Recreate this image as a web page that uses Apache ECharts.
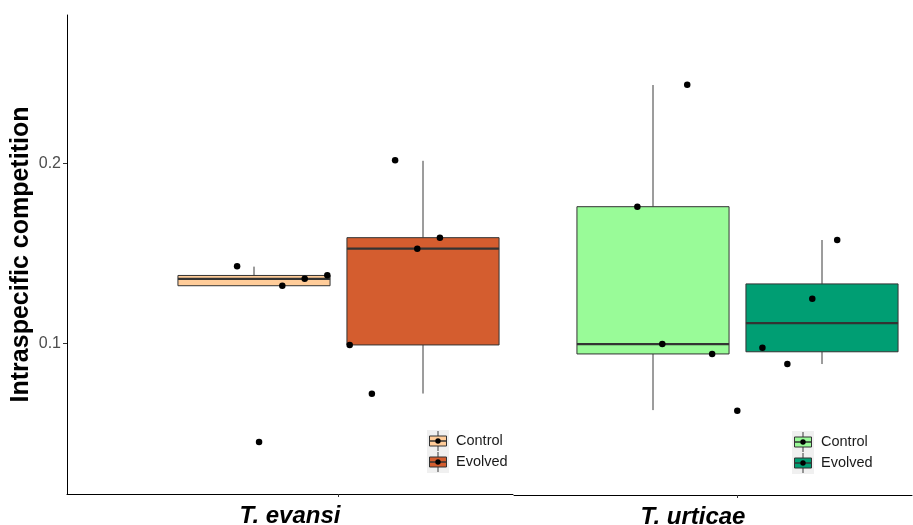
<!DOCTYPE html>
<html>
<head>
<meta charset="utf-8">
<script src="https://cdn.jsdelivr.net/npm/echarts@6/dist/echarts.min.js"></script>
<style>
html,body{margin:0;padding:0;background:#fff;}
#chart{width:913px;height:525px;}
</style>
</head>
<body>
<div id="chart"></div>
<script>
// ---------- data ----------
const species = ['T. evansi', 'T. urticae'];
const groups = ['Control', 'Evolved'];
const yTickValues = [0.1, 0.2];
const yTitle = 'Intraspecific competition';

// box statistics: [lower whisker, Q1, median, Q3, upper whisker]
const evansiControlBox  = [0.1320, 0.1320, 0.1358, 0.1377, 0.1426];
const evansiEvolvedBox  = [0.0721, 0.0991, 0.1526, 0.1587, 0.2014];
const urticaeControlBox = [0.0629, 0.0941, 0.0996, 0.1759, 0.2435];
const urticaeEvolvedBox = [0.0885, 0.0953, 0.1112, 0.1330, 0.1574];

// individual observations and their horizontal jitter
const evansiControlPts   = [0.1428, 0.1320, 0.1359, 0.1378, 0.0452];
const evansiControlJit   = [-0.040, 0.067, 0.120, 0.1735, 0.012];
const evansiEvolvedPts   = [0.2017, 0.1587, 0.1526, 0.0991, 0.0720];
const evansiEvolvedJit   = [-0.066, 0.040, -0.0135, -0.1735, -0.121];
const urticaeControlPts  = [0.2437, 0.1759, 0.0996, 0.0941, 0.0626];
const urticaeControlJit  = [0.081, -0.037, 0.022, 0.140, 0.1995];
const urticaeEvolvedPts  = [0.1574, 0.1248, 0.0976, 0.0885];
const urticaeEvolvedJit  = [0.036, -0.023, -0.141, -0.082];

// ---------- styling / layout ----------
const FONT = '"Liberation Sans", Arial, Helvetica, sans-serif';
const colors = {
  evansi: ['#FFCC99', '#D45D2F'],
  urticae: ['#99FB98', '#009E73']
};
const groupPos = [0.8, 1.2];
const HALF = 0.18;
const SCALE = 1800; // px per unit (y)
const yMax = 0.2824;

function boxRender(color) {
  return function (params, api) {
    const c = api.value(0);
    const pMin = api.coord([c, api.value(1)]);
    const pQ1 = api.coord([c, api.value(2)]);
    const pMed = api.coord([c, api.value(3)]);
    const pQ3 = api.coord([c, api.value(4)]);
    const pMax = api.coord([c, api.value(5)]);
    const half = api.size([HALF, 0])[0];
    const ls = {stroke: '#3a3a3a', lineWidth: 1};
    return {
      type: 'group',
      children: [
        {type: 'line', shape: {x1: pMax[0], y1: pMax[1], x2: pQ3[0], y2: pQ3[1]}, style: ls},
        {type: 'line', shape: {x1: pMin[0], y1: pMin[1], x2: pQ1[0], y2: pQ1[1]}, style: ls},
        {type: 'rect', shape: {x: pQ3[0] - half, y: pQ3[1], width: 2 * half, height: pQ1[1] - pQ3[1]},
          style: {fill: color, stroke: '#333333', lineWidth: 1}},
        {type: 'line', shape: {x1: pMed[0] - half, y1: pMed[1], x2: pMed[0] + half, y2: pMed[1]},
          style: {stroke: '#333333', lineWidth: 2.2}}
      ]
    };
  };
}

function boxSeries(idx, gi, stats, color) {
  return {
    type: 'custom',
    xAxisIndex: idx, yAxisIndex: idx,
    renderItem: boxRender(color),
    encode: {x: 0, y: [1, 2, 3, 4, 5]},
    data: [[groupPos[gi]].concat(stats)],
    z: 2,
    silent: true
  };
}

function pointSeries(idx, gi, vals, jit) {
  return {
    type: 'scatter',
    xAxisIndex: idx, yAxisIndex: idx,
    symbolSize: 6.5,
    itemStyle: {color: '#000', opacity: 1},
    data: vals.map((v, i) => [groupPos[gi] + jit[i], v]),
    z: 5,
    silent: true
  };
}

function legendGraphic(x, y, cols) {
  const children = [
    {type: 'rect', shape: {x: x, y: y, width: 22, height: 43}, style: {fill: '#F0F0F0'}}
  ];
  cols.forEach((c, i) => {
    const cy = y + 11 + i * 21;
    const cx = x + 11;
    children.push({type: 'line', shape: {x1: cx, y1: cy - 10, x2: cx, y2: cy + 10}, style: {stroke: '#3a3a3a', lineWidth: 1}});
    children.push({type: 'rect', shape: {x: x + 2.5, y: cy - 5, width: 17, height: 10}, style: {fill: c, stroke: '#333', lineWidth: 1}});
    children.push({type: 'line', shape: {x1: x + 2.5, y1: cy, x2: x + 19.5, y2: cy}, style: {stroke: '#333', lineWidth: 1.5}});
    children.push({type: 'circle', shape: {cx: cx, cy: cy, r: 2.7}, style: {fill: '#000'}});
    children.push({type: 'text', x: x + 29, y: cy, style: {text: groups[i], font: '14.5px ' + FONT, fill: '#1A1A1A', textVerticalAlign: 'middle', textAlign: 'left'}});
  });
  return {type: 'group', children: children};
}

const chart = echarts.init(document.getElementById('chart'), null, {renderer: 'canvas'});

const grids = [
  {left: 67, top: 15, width: 446, height: 479, containLabel: false, outerBoundsMode: 'none'},
  {left: 514, top: 15, width: 398, height: 480, containLabel: false, outerBoundsMode: 'none'}
];

function xAxis(idx, min, max, padRight) {
  return {
    type: 'value', gridIndex: idx, min: min, max: max,
    splitLine: {show: false},
    axisLine: {show: true, lineStyle: {color: '#000', width: 1}},
    axisTick: {show: true, customValues: [1], length: 3, lineStyle: {color: '#333'}},
    axisLabel: {show: false},
    name: species[idx], nameLocation: 'middle', nameGap: 10,
    nameTextStyle: {fontFamily: FONT, fontSize: 24, fontWeight: 'bold', fontStyle: 'italic', color: '#000',
      verticalAlign: 'top', padding: [0, padRight, 0, 0]}
  };
}

const option = {
  animation: false,
  backgroundColor: '#fff',
  grid: grids,
  xAxis: [
    xAxis(0, 1 - 271.5 / 422.5, 1 - 271.5 / 422.5 + 446 / 422.5, 0),
    xAxis(1, 1 - 223.5 / 422.5, 1 - 223.5 / 422.5 + 398 / 422.5, 40)
  ],
  yAxis: [
    {
      type: 'value', gridIndex: 0, min: yMax - 479 / SCALE, max: yMax,
      splitLine: {show: false},
      axisLine: {show: true, lineStyle: {color: '#000', width: 1}},
      axisTick: {show: true, customValues: yTickValues, length: 4, lineStyle: {color: '#333'}},
      axisLabel: {customValues: yTickValues, formatter: v => v.toFixed(1), color: '#4D4D4D',
        fontFamily: FONT, fontSize: 16, margin: 6},
      name: yTitle, nameLocation: 'middle', nameGap: 33,
      nameTextStyle: {fontFamily: FONT, fontSize: 25, fontWeight: 'bold', color: '#000'}
    },
    {
      type: 'value', gridIndex: 1, min: yMax - 480 / SCALE, max: yMax, show: false,
      splitLine: {show: false}
    }
  ],
  series: [
    boxSeries(0, 0, evansiControlBox, colors.evansi[0]),
    boxSeries(0, 1, evansiEvolvedBox, colors.evansi[1]),
    boxSeries(1, 0, urticaeControlBox, colors.urticae[0]),
    boxSeries(1, 1, urticaeEvolvedBox, colors.urticae[1]),
    pointSeries(0, 0, evansiControlPts, evansiControlJit),
    pointSeries(0, 1, evansiEvolvedPts, evansiEvolvedJit),
    pointSeries(1, 0, urticaeControlPts, urticaeControlJit),
    pointSeries(1, 1, urticaeEvolvedPts, urticaeEvolvedJit)
  ],
  graphic: [
    legendGraphic(427, 430, colors.evansi),
    legendGraphic(792, 431, colors.urticae)
  ]
};
chart.setOption(option);
</script>
</body>
</html>
